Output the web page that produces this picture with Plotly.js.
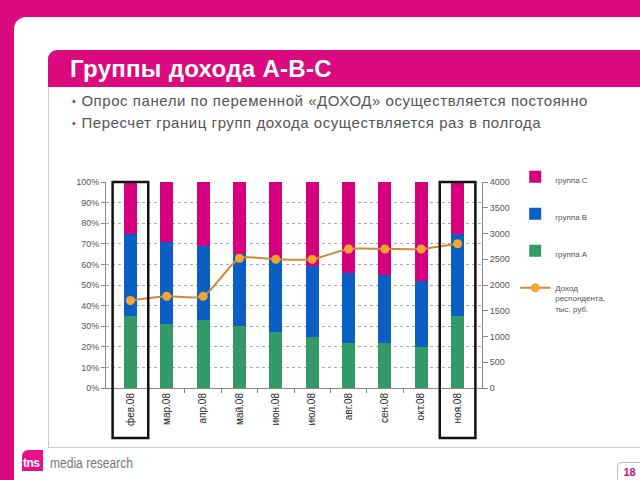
<!DOCTYPE html>
<html>
<head>
<meta charset="utf-8">
<script src="https://cdn.plot.ly/plotly-3.0.1.min.js"></script>
<style>
    body { margin: 0; width: 640px; height: 480px; overflow: hidden; background: #db0a7f; font-family: "Liberation Sans", Arial, sans-serif; }
    #page { position: absolute; left: 14px; top: 17px; width: 626px; height: 463px; background: #fff; border-top-left-radius: 12px; }
    #titleBar { position: absolute; left: 48px; top: 50px; width: 592px; height: 37px; background: #db0a7f; border-top-left-radius: 9px; }
    #titleBar span { position: absolute; left: 22px; top: 5px; color: #fff; font-weight: bold; font-size: 24px; letter-spacing: 0.3px; }
    #content { position: absolute; left: 48px; top: 87px; width: 592px; height: 360px; border-left: 1px solid #ccc; border-bottom: 1px solid #ccc; }
    .bullet { position: absolute; left: 23px; color: #555; font-size: 15px; letter-spacing: 0.55px; white-space: nowrap; }
    .bullet b { color: #db0a7f; font-weight: normal; font-size: 11px; margin-right: 5px; position: relative; top: -1px; }
    #logo { position: absolute; left: 22px; top: 450px; width: 21px; height: 21px; background: #e8108a; border-top-left-radius: 6px; color: #fff; font-weight: bold; font-size: 12px; line-height: 26px; text-indent: 1px; letter-spacing: -0.5px; }
    #brand { position: absolute; left: 50px; top: 455px; color: #777; font-size: 14px; transform: scaleX(0.86); transform-origin: left center; }
    #pageNum { position: absolute; left: 617px; top: 462px; width: 23px; height: 18px; border-left: 1px solid #bbb; border-top: 1px solid #bbb; border-top-left-radius: 5px; color: #c8117a; font-weight: bold; font-size: 11px; text-align: center; line-height: 18px; }
    #chart { position: absolute; left: 0; top: 0; width: 640px; height: 480px; }
</style>
</head>
<body>
<div id="page"></div>
<div id="titleBar"><span>Группы дохода А-В-С</span></div>
<div id="content">
    <div class="bullet" style="top: 5px;"><b>•</b>Опрос панели по переменной «ДОХОД» осуществляется постоянно</div>
    <div class="bullet" style="top: 27px;"><b>•</b>Пересчет границ групп дохода осуществляется раз в полгода</div>
</div>
<div id="logo">tns</div>
<div id="brand">media research</div>
<div id="pageNum">18</div>
<div id="chart"></div>

<script>
const months = ['фев.08', 'мар.08', 'апр.08', 'май.08', 'июн.08', 'июл.08', 'авг.08', 'сен.08', 'окт.08', 'ноя.08'];

// shares of respondents, %
const groupA = [35, 31, 33, 30, 27, 25, 22, 22, 20, 35];
const groupB = [40, 40, 36, 35, 35, 34, 34, 33, 32, 40];
const groupC = [25, 29, 31, 35, 38, 41, 44, 45, 48, 25];

// respondent income, thousand rub
const income = [1700, 1780, 1780, 2520, 2500, 2500, 2700, 2700, 2700, 2800];

const highlighted = ['фев.08', 'ноя.08'];

function barTrace(name, values, color, rank) {
    return {
        x: months,
        y: values,
        name: name,
        type: 'bar',
        marker: { color: color },
        legendgroup: name,
        legendrank: rank,
        hoverinfo: 'skip'
    };
}

function renderChart() {
    const data = [
        barTrace('группа A', groupA, '#339966', 3),
        barTrace('группа B', groupB, '#0b5fc4', 2),
        barTrace('группа C', groupC, '#d6007f', 1),
        {
            x: months,
            y: income,
            name: 'Доход<br>респондента,<br>тыс. руб.',
            type: 'scatter',
            mode: 'lines+markers',
            yaxis: 'y2',
            line: { color: '#d08a35', width: 2, shape: 'spline', smoothing: 0.6 },
            marker: { color: '#f5a530', size: 9 },
            legendgroup: 'income',
            legendrank: 4,
            hoverinfo: 'skip'
        }
    ];

    const boxes = highlighted.map(m => ({
        type: 'rect',
        xref: 'x',
        yref: 'paper',
        x0: months.indexOf(m) - 0.49,
        x1: months.indexOf(m) + 0.49,
        y0: -0.243,
        y1: 1,
        line: { color: '#111', width: 2.5 },
        layer: 'above'
    }));

    const layout = {
        width: 640,
        height: 480,
        margin: { l: 106, r: 158, t: 182, b: 92 },
        paper_bgcolor: 'rgba(0,0,0,0)',
        plot_bgcolor: 'rgba(0,0,0,0)',
        barmode: 'stack',
        bargap: 0.64,
        font: { family: 'Liberation Sans, Arial, sans-serif', size: 9, color: '#555' },
        xaxis: {
            type: 'category',
            automargin: false,
            tickangle: -90,
            tickfont: { size: 10, color: '#1a1a1a' },
            ticks: 'outside',
            tickson: 'boundaries',
            ticklen: 4,
            tickcolor: '#888',
            showline: true,
            linecolor: '#888',
            showgrid: false
        },
        yaxis: {
            automargin: false,
            range: [0, 100],
            dtick: 10,
            ticksuffix: '%',
            ticks: 'outside',
            ticklen: 4,
            tickcolor: '#888',
            showline: true,
            linecolor: '#888',
            gridcolor: '#aaa',
            griddash: 'dot',
            zeroline: false
        },
        yaxis2: {
            automargin: false,
            overlaying: 'y',
            side: 'right',
            range: [0, 4000],
            dtick: 500,
            ticks: 'outside',
            ticklen: 5,
            tickcolor: '#888',
            showline: true,
            linecolor: '#888',
            showgrid: false,
            zeroline: false
        },
        legend: {
            xref: 'container',
            yref: 'container',
            x: 0.805,
            y: 0.656,
            xanchor: 'left',
            yanchor: 'top',
            traceorder: 'grouped',
            tracegroupgap: 18,
            valign: 'top',
            itemwidth: 30,
            font: { size: 8, color: '#555' },
            bgcolor: 'rgba(0,0,0,0)'
        },
        shapes: boxes
    };

    Plotly.newPlot('chart', data, layout, { staticPlot: true });
}

renderChart();
</script>
</body>
</html>
